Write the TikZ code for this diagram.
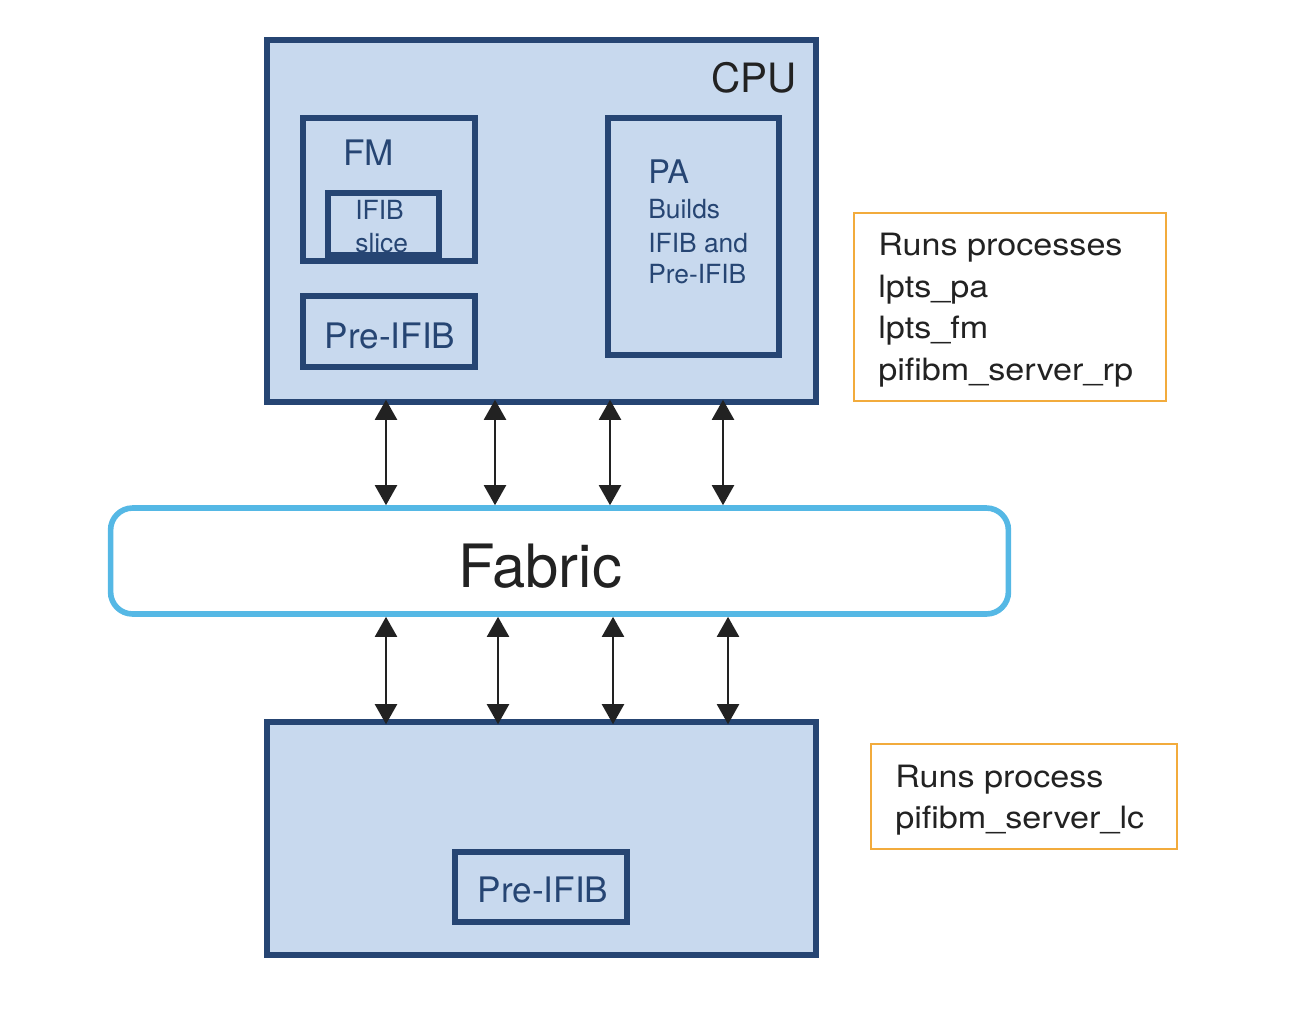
\documentclass[tikz,border=0pt]{standalone}
\usepackage{fontspec}
\setmainfont{TeX Gyre Heros}
\newfontfamily\notefont[FakeStretch=1.11]{TeX Gyre Heros}
\usetikzlibrary{arrows.meta}
\definecolor{boxfill}{HTML}{C8D9EE}
\definecolor{boxline}{HTML}{264573}
\definecolor{fabline}{HTML}{55B8E5}
\definecolor{noteline}{HTML}{F2AB3C}
\definecolor{ink}{HTML}{222222}
\newcommand{\fsz}[1]{\fontsize{#1}{#1}\selectfont}
\begin{document}
\begin{tikzpicture}[x=0.02cm,y=-0.02cm,
  block/.style={draw=boxline,fill=boxfill,line width=3.2pt,inner sep=0pt},
  lbl/.style={text=boxline,inner sep=0pt},
  note/.style={draw=noteline,line width=1.4pt,inner sep=0pt},
  notetxt/.style={text=ink,inner sep=0pt,anchor=base west,font=\notefont\fsz{17.5}},
  link/.style={ink,line width=1.2pt,{Triangle[length=0.4cm,width=0.44cm]}-{Triangle[length=0.4cm,width=0.44cm]}}]
\useasboundingbox (0,0) rectangle (1304,1012);

% route processor
\node[block,minimum width=10.98cm,minimum height=7.24cm] (cpu) at (541.5,221) {};
\node[block,minimum width=3.44cm,minimum height=2.86cm] (fm) at (389,189.5) {};
\node[block,minimum width=2.22cm,minimum height=1.24cm] (slice) at (383.5,224) {};
\node[block,minimum width=3.44cm,minimum height=1.42cm] (pre1) at (389,331.5) {};
\node[block,minimum width=3.42cm,minimum height=4.74cm] (pa) at (693.5,236.5) {};
\node[lbl,text=ink,anchor=base east,font=\fsz{23}] (cputxt) at (797,92) {CPU};
\node[lbl,anchor=base west,font=\fsz{20}] (fmtxt) at (343,165) {FM};
\node[lbl,anchor=base west,font=\fsz{15}] (slicetxt1) at (355,219) {IFIB};
\node[lbl,anchor=base west,font=\fsz{15}] (slicetxt2) at (355,252) {slice};
\node[lbl,anchor=base,font=\fsz{20}] (pre1txt) at (390,348) {Pre-IFIB};
\node[lbl,anchor=base west,font=\fsz{18.5}] (patxt) at (648,183) {PA};
\node[lbl,anchor=base west,font=\fsz{15}] (patxt1) at (648,218) {Builds};
\node[lbl,anchor=base west,font=\fsz{15}] (patxt2) at (648,252) {IFIB and};
\node[lbl,anchor=base west,font=\fsz{15}] (patxt3) at (648,283) {Pre-IFIB};

% fabric
\node[draw=fabline,fill=white,line width=3.2pt,rounded corners=0.44cm,inner sep=0pt,
  minimum width=17.96cm,minimum height=2.12cm] (fabric) at (559.5,561) {};
\node[text=ink,anchor=base,inner sep=0pt,font=\fsz{34}] (fabtxt) at (540,587) {Fabric};

% line card
\node[block,minimum width=10.98cm,minimum height=4.66cm] (lc) at (541.5,838.5) {};
\node[block,minimum width=3.44cm,minimum height=1.40cm] (pre2) at (541,887) {};
\node[lbl,anchor=base,font=\fsz{20}] (pre2txt) at (543,902) {Pre-IFIB};

% notes
\node[note,minimum width=6.24cm,minimum height=3.76cm] (note1) at (1010,307) {};
\node[notetxt] (n1a) at (878,255) {Runs processes};
\node[notetxt] (n1b) at (878,297) {lpts\_pa};
\node[notetxt] (n1c) at (878,338) {lpts\_fm};
\node[notetxt] (n1d) at (878,380) {pifibm\_server\_rp};
\node[note,minimum width=6.12cm,minimum height=2.10cm] (note2) at (1024,796.5) {};
\node[notetxt] (n2a) at (895,787) {Runs process};
\node[notetxt] (n2b) at (895,828) {pifibm\_server\_lc};

% links
\foreach \x [count=\i] in {386,495,610,723} {
  \coordinate (up\i) at (\x,0);
  \draw[link,shorten <=-0.1cm] (cpu.south -| up\i) -- (fabric.north -| up\i);
}
\foreach \x [count=\i] in {386,498,613,728} {
  \coordinate (dn\i) at (\x,0);
  \draw[link,shorten >=-0.1cm] (fabric.south -| dn\i) -- (lc.north -| dn\i);
}
\end{tikzpicture}
\end{document}
